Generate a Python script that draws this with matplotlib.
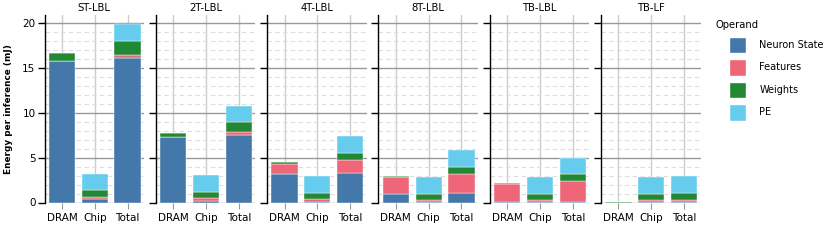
import numpy as np
import matplotlib.pyplot as plt
from matplotlib.patches import Patch
from matplotlib.ticker import MultipleLocator

# data, energy in mJ
configs = ['ST-LBL', '2T-LBL', '4T-LBL', '8T-LBL', 'TB-LBL', 'TB-LF']
places = ['DRAM', 'Chip', 'Total']
operands = ['Neuron State', 'Features', 'Weights', 'PE']
colors = ['#4477AA', '#EE6677', '#228833', '#66CCEE']

# each entry: [DRAM, Chip, Total]
neuron = [[15.78, 0.37, 16.15], [7.34, 0.19, 7.55], [3.17, 0.10, 3.27],
          [1.00, 0.10, 1.10], [0.02, 0.05, 0.07], [0.00, 0.02, 0.02]]
features = [[0.00, 0.26, 0.30], [0.00, 0.26, 0.31], [1.15, 0.27, 1.45],
            [1.79, 0.23, 2.10], [2.03, 0.25, 2.31], [0.00, 0.28, 0.31]]
weights = [[0.87, 0.75, 1.60], [0.44, 0.70, 1.08], [0.18, 0.67, 0.82],
           [0.15, 0.67, 0.75], [0.11, 0.70, 0.75], [0.10, 0.70, 0.75]]
pe = [[0.00, 1.82, 1.82], [0.00, 1.87, 1.86], [0.00, 1.90, 1.90],
      [0.00, 1.87, 1.86], [0.00, 1.87, 1.87], [0.00, 1.87, 1.90]]

series = [neuron, features, weights, pe]

plt.rcParams['font.family'] = 'DejaVu Sans'
fig = plt.figure(figsize=(8.3, 2.48), dpi=100)

left0 = 44.5 / 830
pw = 99.5 / 830
step = 111.3 / 830
bottom = 1 - 202.5 / 248
top = 1 - 15 / 248

x = np.arange(len(places))
for i, cfg in enumerate(configs):
    ax = fig.add_axes([left0 + i * step, bottom, pw, top - bottom])
    base = np.zeros(len(places))
    for s, col in zip(series, colors):
        v = np.array(s[i])
        ax.bar(x, v, width=0.8, bottom=base, color=col, edgecolor='white',
               linewidth=0.3, zorder=3)
        base += v
    ax.set_xlim(-0.53, 2.5)
    ax.set_ylim(0, 20.9)
    ax.yaxis.set_major_locator(MultipleLocator(5))
    ax.yaxis.set_minor_locator(MultipleLocator(1))
    ax.grid(axis='y', which='major', color='#999999', lw=1.0, zorder=0)
    ax.grid(axis='y', which='minor', color='#dddddd', lw=0.8, ls=(0, (4, 3)), zorder=0)
    ax.grid(axis='x', which='major', color='#cccccc', lw=1.0, zorder=0)
    ax.set_xticks(x)
    ax.set_xticklabels(places, fontsize=7.5)
    ax.tick_params(axis='x', length=4, color='#999999', pad=3.5)
    ax.tick_params(axis='y', which='major', length=5, width=1, labelsize=7.5, pad=1.5)
    ax.tick_params(axis='y', which='minor', length=0)
    for sp in ['top', 'right', 'bottom']:
        ax.spines[sp].set_visible(False)
    ax.spines['left'].set_linewidth(1.0)
    if i > 0:
        ax.set_yticklabels([])
    else:
        ax.set_ylabel('Energy per inference (mJ)', fontsize=6.4, fontweight='bold',
                      labelpad=7)
    ax.set_title(cfg, fontsize=7.2, pad=3)

fig.text(715 / 830, 1 - 25 / 248, 'Operand', fontsize=7.2, va='center', ha='left')
handles = [Patch(facecolor=c, edgecolor='white', label=l) for l, c in zip(operands, colors)]
fig.legend(handles=handles, loc='upper left',
           bbox_to_anchor=(721 / 830, 1 - 29 / 248), frameon=False, fontsize=7,
           handlelength=1.8, handleheight=2.2, handletextpad=1.35,
           labelspacing=0.64, borderpad=0.3)

fig.savefig('out.png', dpi=100)
